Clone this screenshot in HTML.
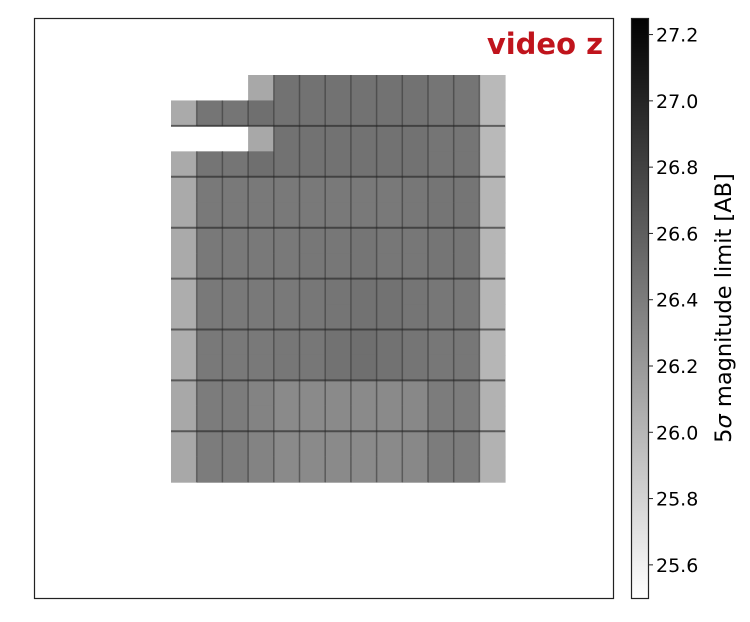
<!DOCTYPE html>
<html><head><meta charset="utf-8">
<style>
body{margin:0;background:#fff;width:750px;height:618px;overflow:hidden;font-family:"DejaVu Sans","Liberation Sans",sans-serif}
</style></head>
<body>
<svg id="chart" width="750" height="618" xmlns="http://www.w3.org/2000/svg">
<defs>
<linearGradient id="cbgrad" x1="0" y1="1" x2="0" y2="0">
<stop offset="0" stop-color="#fff"/><stop offset="1" stop-color="#000"/>
</linearGradient>
<clipPath id="plotclip"><rect x="34" y="18" width="580" height="581"/></clipPath>
</defs>
<g id="tiles" clip-path="url(#plotclip)"></g>
<g id="gridlines"></g>
<rect x="34.5" y="18.5" width="579" height="580" fill="none" stroke="#222" stroke-width="1.2"/>
<text x="603" y="54" text-anchor="end" font-size="29" font-weight="bold" fill="#c0141c" font-family="DejaVu Sans, sans-serif">video z</text>
<rect x="631.5" y="18.5" width="17" height="580" fill="url(#cbgrad)" stroke="#222" stroke-width="1.2"/>
<g id="cbticks"></g>
<text transform="translate(731,308) rotate(-90)" text-anchor="middle" font-size="22.5" fill="#000" font-family="DejaVu Sans, sans-serif">5<tspan font-style="italic">σ</tspan> magnitude limit [AB]</text>
</svg>
<script>
// values in mag (5σ depth), 16 half-rows x 13 columns, null = no coverage
const rowValues = [
 [null,null,null,26.10,26.47,26.47,26.47,26.47,26.47,26.47,26.45,26.45,25.98],
 [26.08,26.45,26.45,26.49,26.47,26.47,26.47,26.47,26.47,26.47,26.45,26.45,25.98],
 [null,null,null,26.10,26.47,26.47,26.47,26.47,26.47,26.47,26.45,26.45,25.98],
 [26.08,26.45,26.45,26.49,26.47,26.47,26.47,26.47,26.47,26.47,26.45,26.45,25.98],
 [26.08,26.42,26.42,26.42,26.42,26.42,26.42,26.42,26.42,26.43,26.45,26.45,26.00],
 [26.08,26.42,26.42,26.42,26.42,26.42,26.42,26.42,26.42,26.43,26.45,26.45,26.00],
 [26.08,26.42,26.42,26.42,26.42,26.43,26.43,26.45,26.43,26.43,26.45,26.45,26.00],
 [26.08,26.42,26.42,26.42,26.42,26.43,26.43,26.45,26.43,26.43,26.45,26.45,26.00],
 [26.06,26.42,26.42,26.42,26.42,26.43,26.45,26.47,26.47,26.45,26.43,26.43,26.00],
 [26.06,26.42,26.42,26.42,26.42,26.43,26.45,26.47,26.47,26.45,26.43,26.43,26.00],
 [26.06,26.42,26.42,26.42,26.43,26.43,26.47,26.49,26.47,26.45,26.43,26.43,26.00],
 [26.06,26.42,26.42,26.42,26.43,26.43,26.47,26.49,26.47,26.45,26.43,26.43,26.00],
 [26.10,26.40,26.40,26.35,26.30,26.30,26.30,26.30,26.30,26.32,26.40,26.40,26.03],
 [26.10,26.40,26.40,26.35,26.30,26.30,26.30,26.30,26.30,26.32,26.40,26.40,26.03],
 [26.10,26.40,26.40,26.35,26.30,26.30,26.30,26.30,26.30,26.32,26.40,26.40,26.03],
 [26.10,26.40,26.40,26.35,26.30,26.30,26.30,26.30,26.30,26.32,26.40,26.40,26.03]
];
const cbTicks = [25.6,25.8,26.0,26.2,26.4,26.6,26.8,27.0,27.2];
const vmin = 25.5, vmax = 27.25;

const ns = "http://www.w3.org/2000/svg";
const x0 = 171, colW = 25.7, y0 = 75, halfH = 25.45;
function xPos(c){return x0 + c*colW;}
function yPos(r){return y0 + r*halfH;}
function gray(v){const t=Math.max(0,Math.min(1,1-(v-vmin)/(vmax-vmin)));const g=Math.round(t*255);return `rgb(${g},${g},${g})`;}
function cbY(v){return 598 - (v-vmin)/(vmax-vmin)*580;}

const tiles = document.getElementById('tiles');
const gl = document.getElementById('gridlines');
rowValues.forEach((row,r)=>{
  row.forEach((v,c)=>{
    if(v===null) return;
    const el=document.createElementNS(ns,'rect');
    
    
    el.setAttribute('x',xPos(c));el.setAttribute('y',yPos(r));
    el.setAttribute('width',colW+0.5);el.setAttribute('height',halfH+0.5);
    el.setAttribute('fill',gray(v));
    tiles.appendChild(el);
    if(c>0 && row[c-1]!==null){
      const ln=document.createElementNS(ns,'line');
      
      
      ln.setAttribute('x1',xPos(c));ln.setAttribute('x2',xPos(c));
      ln.setAttribute('y1',yPos(r));ln.setAttribute('y2',yPos(r+1));
      ln.setAttribute('stroke','#333');ln.setAttribute('stroke-opacity','0.55');ln.setAttribute('stroke-width','1.5');
      gl.appendChild(ln);
    }
  });
});
for(let r=2;r<16;r+=2){
  const el=document.createElementNS(ns,'line');
  
  
  el.setAttribute('x1',xPos(0));el.setAttribute('x2',xPos(13));
  el.setAttribute('y1',yPos(r));el.setAttribute('y2',yPos(r));
  el.setAttribute('stroke','#222');el.setAttribute('stroke-opacity','0.6');el.setAttribute('stroke-width','2');
  gl.appendChild(el);
}
const cb = document.getElementById('cbticks');
cbTicks.forEach(v=>{
  const y=cbY(v);
  const t=document.createElementNS(ns,'line');
  
  
  t.setAttribute('x1',649);t.setAttribute('x2',653);t.setAttribute('y1',y);t.setAttribute('y2',y);
  t.setAttribute('stroke','#222');
  cb.appendChild(t);
  const l=document.createElementNS(ns,'text');
  
  
  l.setAttribute('x',656);l.setAttribute('y',y+7);
  l.setAttribute('font-size','19');l.setAttribute('fill','#000');
  l.textContent=v.toFixed(1);
  cb.appendChild(l);
});
</script>
</body></html>
